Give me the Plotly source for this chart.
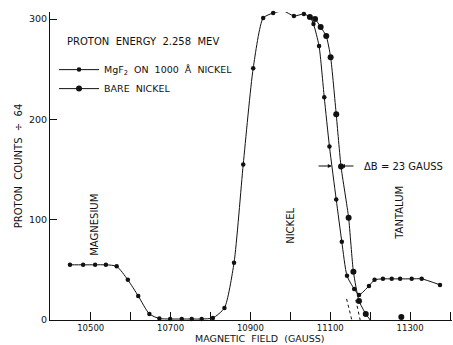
import plotly.graph_objects as go

# MgF2 on 1000 A nickel (shared curve up to plateau, then left falling edge, then tantalum)
mgf2_x = [10448, 10481, 10511, 10538, 10565, 10593, 10619, 10647, 10672, 10699, 10728, 10753,
          10778, 10806, 10835, 10859, 10882, 10907, 10932, 10957, 10983, 11009, 11034, 11049,
          11058, 11072, 11085, 11098, 11115, 11129, 11142, 11160, 11172, 11197, 11211, 11232,
          11254, 11275, 11304, 11329, 11375]
mgf2_y = [55, 55, 55, 55, 53.5, 40, 24, 6, 1.5, 1, 1, 1,
          1, 2, 12, 57, 155, 251, 301, 306, 308, 303, 305, 302,
          295, 273, 222, 173, 120, 78, 44, 31, 25, 34, 40, 41,
          41, 41, 41, 41, 35]

# Bare nickel (right falling edge)
bare_x = [11049, 11062, 11076, 11090, 11101, 11115, 11127, 11146, 11158, 11172, 11189]
bare_y = [302, 300, 292, 283, 262, 205, 153, 102, 48, 19, 6]
bare_tail_x, bare_tail_y = [11189, 11200], [6, 0]
bare_extra_x, bare_extra_y = [11278], [3]

# dotted extrapolations of the two edges to zero
ext1_x, ext1_y = [11141, 11154], [21, 0]
ext2_x, ext2_y = [11164, 11175], [20, 0]

tick_vals = [10500, 10600, 10700, 10800, 10900, 11000, 11100, 11200, 11300, 11400]
tick_text = ["10500", "", "10700", "", "10900", "", "11100", "", "11300", ""]
y_ticks = [0, 100, 200, 300]

FONT = "DejaVu Sans"
BLACK = "#111"
PLOT_H = 345 - 12 - 25

fig = go.Figure()
fig.add_trace(go.Scatter(x=mgf2_x, y=mgf2_y, mode="lines+markers",
                         name="MgF<sub>2</sub>  ON  1000  Å  NICKEL", cliponaxis=False,
                         line=dict(color=BLACK, width=1, shape="spline", smoothing=0.6),
                         marker=dict(color=BLACK, size=4.5)))
fig.add_trace(go.Scatter(x=bare_x, y=bare_y, mode="lines+markers",
                         name="BARE  NICKEL", cliponaxis=False,
                         line=dict(color=BLACK, width=1, shape="spline", smoothing=0.5),
                         marker=dict(color=BLACK, size=6)))
fig.add_trace(go.Scatter(x=bare_tail_x, y=bare_tail_y, mode="lines", showlegend=False,
                         line=dict(color=BLACK, width=1)))
fig.add_trace(go.Scatter(x=bare_extra_x, y=bare_extra_y, mode="markers", showlegend=False,
                         cliponaxis=False, marker=dict(color=BLACK, size=6)))
fig.add_trace(go.Scatter(x=ext1_x, y=ext1_y, mode="lines", showlegend=False,
                         line=dict(color=BLACK, width=1, dash="dot")))
fig.add_trace(go.Scatter(x=ext2_x, y=ext2_y, mode="lines", showlegend=False,
                         line=dict(color=BLACK, width=1, dash="dot")))

ann_font = dict(family=FONT, size=10, color=BLACK)
annotations = [
    dict(x=10436, y=278, text="PROTON  ENERGY  2.258  MEV", xanchor="left", yanchor="middle", showarrow=False, font=ann_font),
    dict(x=10511, y=95, text="MAGNESIUM", textangle=-90, showarrow=False, font=ann_font),
    dict(x=11002, y=94, text="NICKEL", textangle=-90, showarrow=False, font=ann_font),
    dict(x=11275, y=107, text="TANTALUM", textangle=-90, showarrow=False, font=ann_font),
    dict(x=11180, y=153.5, text="ΔB = 23 GAUSS", xanchor="left", yanchor="middle", showarrow=False, font=ann_font),
    dict(x=11104, y=153.5, ax=11067, ay=153.5, axref="x", ayref="y", text="", showarrow=True,
         arrowhead=2, arrowsize=0.8, arrowwidth=1, arrowcolor=BLACK),
    dict(x=11127, y=153.5, ax=11162, ay=153.5, axref="x", ayref="y", text="", showarrow=True,
         arrowhead=2, arrowsize=0.8, arrowwidth=1, arrowcolor=BLACK),
    dict(x=0.52, y=-25 / PLOT_H, xref="paper", yref="paper", text="MAGNETIC  FIELD  (GAUSS)",
         xanchor="center", yanchor="bottom", yshift=-1, showarrow=False,
         font=dict(family=FONT, size=9.5, color=BLACK)),
]

fig.update_layout(
    width=453, height=345,
    margin=dict(l=50, r=1, t=12, b=25),
    paper_bgcolor="white", plot_bgcolor="white",
    font=dict(family=FONT, size=10, color=BLACK),
    annotations=annotations,
    legend=dict(x=0.01, y=0.86, xanchor="left", yanchor="top", bgcolor="rgba(0,0,0,0)",
                font=dict(family=FONT, size=9.5, color=BLACK), itemwidth=40, tracegroupgap=0),
    xaxis=dict(range=[10398, 11405], tickvals=tick_vals, ticktext=tick_text,
               ticks="inside", ticklen=8, tickcolor=BLACK, showline=True, linecolor=BLACK,
               linewidth=1, showgrid=False, zeroline=False,
               tickfont=dict(family=FONT, size=8.5, color=BLACK)),
    yaxis=dict(range=[0, 307], tickvals=y_ticks, ticks="inside", ticklen=7, tickcolor=BLACK,
               showline=True, linecolor=BLACK, linewidth=1, showgrid=False, zeroline=False,
               tickfont=dict(family=FONT, size=9.5, color=BLACK),
               title=dict(text="PROTON  COUNTS  ÷  64", standoff=4,
                          font=dict(family=FONT, size=10, color=BLACK))),
)

fig.write_html("out.html")
